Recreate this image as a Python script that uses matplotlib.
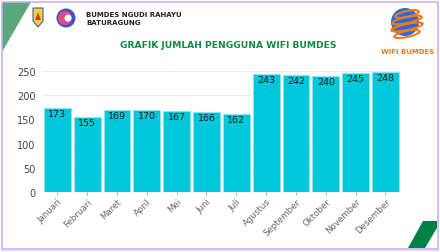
import matplotlib
matplotlib.use("Agg")
import matplotlib.pyplot as plt
from matplotlib.patches import Polygon, Rectangle, Circle, Ellipse

months = ["Januari", "Februari", "Maret", "April", "Mei", "Juni", "Juli",
          "Agustus", "September", "Oktober", "November", "Desember"]
users = [173, 155, 169, 170, 167, 166, 162, 243, 242, 240, 245, 248]
yticks = [0, 50, 100, 150, 200, 250]

W, H = 440, 253
fig = plt.figure(figsize=(W / 100, H / 100), dpi=100)
fig.patch.set_facecolor("white")

def fx(x):
    return x / W

def fy(y):
    return 1 - y / H

# background decorations in pixel coordinates
bg = fig.add_axes([0, 0, 1, 1])
bg.set_xlim(0, W)
bg.set_ylim(H, 0)
bg.axis("off")
bg.add_patch(Rectangle((0, 250), W, 3, color="#eeeeee", lw=0))
bg.add_patch(Polygon([(2, 3), (31, 3), (2, 53)], closed=True, color="#5ba87d", lw=0))
bg.add_patch(Polygon([(423, 222), (437, 222), (437, 229), (425, 249), (408, 249)],
                     closed=True, color="#007f47", lw=0))
bg.add_patch(Rectangle((1.5, 2.5), 436, 247, fill=False, ec="#c8b2f4", lw=1.2))

# left logos (simplified)
bg.add_patch(Polygon([(33, 9), (43, 9), (43, 22), (38, 28), (33, 22)], closed=True,
                     fc="#f2d23c", ec="#3a5fa8", lw=0.8))
bg.add_patch(Polygon([(35, 21), (38, 13), (41, 21)], closed=True, fc="#d83a2a", lw=0))
bg.add_patch(Circle((66, 19), 9.5, fc="#3a55c8", ec="none"))
bg.add_patch(Circle((65, 19), 7, fc="#e8487e", ec="none"))
bg.add_patch(Circle((68, 19), 3.5, fc="white", ec="none"))

bg.text(86, 14.5, "BUMDES NGUDI RAHAYU", fontsize=5.0, fontweight="bold",
        family="DejaVu Sans", color="#222222", va="center", ha="left")
bg.text(86, 23, "BATURAGUNG", fontsize=5.0, fontweight="bold",
        family="DejaVu Sans", color="#222222", va="center", ha="left")

# right logo (simplified globe)
bg.add_patch(Circle((405, 23), 14, fc="#2a6ad8", ec="none"))
for dy, w in [(-8, 24), (-2, 30), (5, 32), (12, 26)]:
    bg.add_patch(Ellipse((407, 23 + dy), w, 6, angle=-12, fill=False,
                         ec="#f07a1a", lw=1.5))
bg.text(408, 52, "WIFI BUMDES", fontsize=5.0, fontweight="bold", family="DejaVu Sans",
        color="#f07a1a", ha="center", va="center")

fig.text(fx(228), fy(46), "GRAFIK JUMLAH PENGGUNA WIFI BUMDES", fontsize=6.6,
         fontweight="bold", family="DejaVu Sans",
         color="#108a44", ha="center", va="center")

# chart
left, right = 42.4, 400.4
top, bottom = 71.7, 193.3
ax = fig.add_axes([fx(left), fy(bottom), fx(right - left), (bottom - top) / H])
x = list(range(len(months)))
bars = ax.bar(x, users, width=0.9, color="#00c8da", edgecolor="#8fe6ee", linewidth=0.6, zorder=3)
ax.set_xlim(-0.5, len(months) - 0.5)
ax.set_ylim(0, 250)
ax.set_yticks(yticks)
ax.set_yticklabels([str(v) for v in yticks])
ax.grid(axis="y", color="#ececec", lw=0.8, zorder=0)
for s in ax.spines.values():
    s.set_visible(False)
ax.tick_params(axis="y", length=0, labelsize=7, labelcolor="#444444", pad=5)
ax.tick_params(axis="x", length=2, width=0.5, color="#888888", labelsize=6.2,
               labelcolor="#666666", pad=1)
ax.set_xticks(x)
ax.set_xticklabels(months, rotation=45, ha="right", rotation_mode="anchor")
for xi, v in zip(x, users):
    ax.text(xi, v - 2.5, str(v), ha="center", va="top", fontsize=6.8, color="#1a1a1a", zorder=4)

fig.savefig("out.png", dpi=100, facecolor="white")
